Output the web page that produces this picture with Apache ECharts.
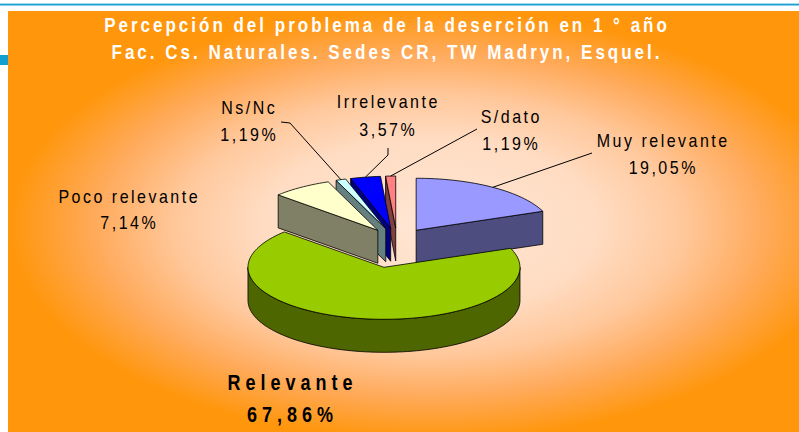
<!DOCTYPE html>
<html>
<head>
<meta charset="utf-8">
<script src="https://cdn.jsdelivr.net/npm/echarts@6/dist/echarts.min.js"></script>
<style>
  html, body { margin: 0; padding: 0; background: #fff; }
  #main { width: 799px; height: 432px; }
  /* svg renderer: letter spacing by font size */
  #main text[style*="16px"] { letter-spacing: 2.5px; }
  #main text[style*="17px"] { letter-spacing: 3px; }
  #main text[style*="18px"] { letter-spacing: 5px; }
</style>
</head>
<body>
<div id="main"></div>
<script>
// data
const categories = ['Muy relevante', 'Relevante', 'Poco relevante', 'Ns/Nc', 'Irrelevante', 'S/dato'];
const values = [19.05, 67.86, 7.14, 1.19, 3.57, 1.19];
const titleLines = [
    'Percepción del problema de la deserción en 1 ° año',
    'Fac. Cs. Naturales. Sedes CR, TW Madryn, Esquel.'
];

// styles
const topColors = ['#9999ff', '#99cc00', '#ffffcc', '#ccffff', '#0000ff', '#ff8080'];
const sideColors = ['#4d4d80', '#4d6600', '#808066', '#668080', '#000080', '#804040'];
const explode = [34, 70, 34, 34, 34, 34];
const labelPos = [[662, 140], [290, 382], [128, 196], [248, 107], [387, 101], [510, 116]];
const labelGap = [27, 32, 26, 27.5, 28, 27];
const leaderFrom = [[[592, 153]], null, null, [[281, 122], [290, 123]], [[388, 148], [388, 155]], [[477, 129]]];
const boldLabel = [false, true, false, false, false, false];

const PIE = { cx: 397, cy: 241, rx: 136, ry: 52, depth: 33 };
const RAD = Math.PI / 180;

// slice angles, clockwise from 12 o'clock
const total = values.reduce((a, b) => a + b, 0);
const slices = [];
let acc = 0;
values.forEach(v => {
    const a1 = 90 - acc / total * 360;
    acc += v;
    const a2 = 90 - acc / total * 360;
    slices.push({ a1, a2, mid: (a1 + a2) / 2 });
});
// back slices first
const order = slices.map((s, i) => i).sort((a, b) => Math.sin(slices[b].mid * RAD) - Math.sin(slices[a].mid * RAD));

function renderItem(params, api) {
    const i = params.dataIndex;
    const s = slices[i];
    const k = PIE.ry / PIE.rx;
    const D = PIE.depth;
    const vx = PIE.cx + explode[i] * Math.cos(s.mid * RAD);
    const vy = PIE.cy - explode[i] * Math.sin(s.mid * RAD) * k;
    const P = (deg, dz) => [vx + PIE.rx * Math.cos(deg * RAD), vy - PIE.ry * Math.sin(deg * RAD) + (dz || 0)];
    const arc = (from, to, dz) => {
        const n = Math.max(2, Math.ceil(Math.abs(from - to) / 2));
        const pts = [];
        for (let j = 0; j <= n; j++) pts.push(P(from + (to - from) * j / n, dz));
        return pts;
    };
    const rank = order.indexOf(i);
    const edge = { stroke: '#000', lineWidth: 0.8, lineJoin: 'round' };
    const children = [];

    const wall = deg => ({
        type: 'polygon', z2: rank * 10,
        shape: { points: [[vx, vy], P(deg), P(deg, D), [vx, vy + D]] },
        style: Object.assign({ fill: sideColors[i] }, edge)
    });
    if (Math.cos(s.a1 * RAD) < -1e-6) children.push(wall(s.a1));
    if (Math.cos(s.a2 * RAD) > 1e-6) children.push(wall(s.a2));

    // outer wall, front half only
    for (let m = -2; m <= 2; m++) {
        const hi = Math.min(s.a1, 360 * m);
        const lo = Math.max(s.a2, 360 * m - 180);
        if (hi > lo) {
            children.push({
                type: 'polygon', z2: rank * 10 + 1,
                shape: { points: arc(hi, lo, 0).concat(arc(lo, hi, D)) },
                style: Object.assign({ fill: sideColors[i] }, edge)
            });
        }
    }

    // top face
    children.push({
        type: 'polygon', z2: rank * 10 + 5,
        shape: { points: [[vx, vy]].concat(arc(s.a1, s.a2, 0)) },
        style: Object.assign({ fill: topColors[i] }, edge)
    });

    // label
    const bold = boldLabel[i];
    const size = bold ? 18 : 16;
    const shift = bold ? 2.5 : 1.25;
    const font = (bold ? 'bold ' : '') + size + 'px "Liberation Sans", Arial, sans-serif';
    const pct = api.value(0).toFixed(2).replace('.', ',') + '%';
    [categories[i], pct].forEach((t, j) => {
        children.push({
            type: 'text', z2: 100,
            x: labelPos[i][0] + shift, y: labelPos[i][1] + j * labelGap[i],
            scaleY: bold ? 1.24 : 1.2,
            style: { text: t, font: font, fill: '#000', align: 'center', verticalAlign: 'middle' }
        });
    });
    if (leaderFrom[i]) {
        children.push({
            type: 'polyline', z2: 99,
            shape: { points: leaderFrom[i].concat([P(s.mid)]) },
            style: { stroke: '#000', lineWidth: 1, fill: null }
        });
    }
    return { type: 'group', children };
}

const chart = echarts.init(document.getElementById('main'), null, { renderer: 'svg' });

const bgScale = 215 / 420;
const option = {
    animation: false,
    graphic: [
        {
            type: 'rect', x: 0, y: 11, scaleY: bgScale, silent: true, z: -10,
            shape: { x: 8, y: 0, width: 791, height: 421 / bgScale },
            style: {
                fill: new echarts.graphic.RadialGradient(430, (225 - 11) / bgScale, 420, [
                    { offset: 0, color: '#ffe6d4' },
                    { offset: 0.4, color: '#ffdcc2' },
                    { offset: 0.6, color: '#ffc89c' },
                    { offset: 0.8, color: '#ffaa5a' },
                    { offset: 1, color: '#ff960c' }
                ], true)
            }
        },
        { type: 'rect', silent: true, shape: { x: 0, y: 3, width: 799, height: 1 }, style: { fill: '#a8dcf0' } },
        { type: 'rect', silent: true, shape: { x: 0, y: 4, width: 799, height: 1.5 }, style: { fill: '#1a9fd3' } },
        { type: 'rect', silent: true, shape: { x: 0, y: 55, width: 8, height: 10 }, style: { fill: '#11a0d0' } },
        {
            type: 'text', x: 387, y: 25, scaleY: 1.23, silent: true,
            style: { text: titleLines[0], font: 'bold 17px "Liberation Sans", Arial, sans-serif', fill: '#fff', align: 'center', verticalAlign: 'middle' }
        },
        {
            type: 'text', x: 387, y: 52, scaleY: 1.23, silent: true,
            style: { text: titleLines[1], font: 'bold 17px "Liberation Sans", Arial, sans-serif', fill: '#fff', align: 'center', verticalAlign: 'middle' }
        }
    ],
    series: [{
        type: 'custom',
        coordinateSystem: 'none',
        renderItem: renderItem,
        silent: true,
        data: values.map((v, i) => ({ name: categories[i], value: v }))
    }]
};

chart.setOption(option);
window.addEventListener('resize', () => chart.resize());
</script>
</body>
</html>
